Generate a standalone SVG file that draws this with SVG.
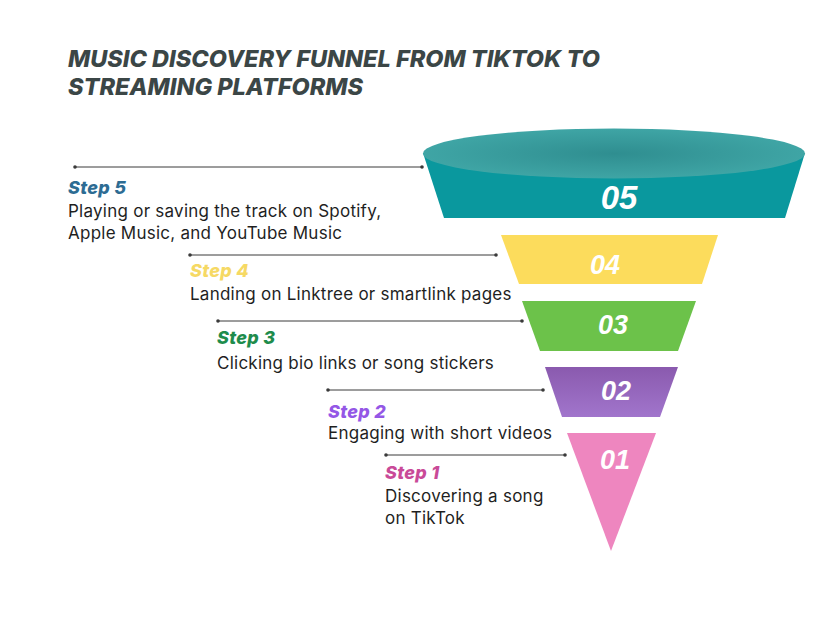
<svg xmlns="http://www.w3.org/2000/svg" width="828" height="621" viewBox="0 0 828 621">
<defs>
<style>
.title{font-family:Inter,"Liberation Sans",sans-serif;font-weight:800;font-style:italic;font-size:23.5px;fill:#3b4646}
.step{font-family:Inter,"Liberation Sans",sans-serif;font-weight:800;font-style:italic;font-size:18px;letter-spacing:0.3px}
.body{font-family:Inter,"Liberation Sans",sans-serif;font-size:17px;fill:#1f1f1f;letter-spacing:0.25px}
.num{font-family:"Liberation Sans",Arial,sans-serif;font-weight:700;font-style:italic;fill:#ffffff;text-anchor:middle}
.conn line{stroke:#3a3a3a;stroke-width:1}
.conn circle{fill:#3a3a3a}
</style>
<radialGradient id="topG" cx="0.5" cy="0.5" r="0.5">
<stop offset="0" stop-color="#2f8e90"/>
<stop offset="1" stop-color="#3fa5a5"/>
</radialGradient>
<linearGradient id="purG" x1="0" y1="0" x2="0" y2="1">
<stop offset="0" stop-color="#8a5aae"/>
<stop offset="1" stop-color="#a175cc"/>
</linearGradient>
</defs>
<rect width="828" height="621" fill="#ffffff"/>
<g id="title">
<text class="title" x="68" y="67">MUSIC DISCOVERY FUNNEL FROM TIKTOK TO</text>
<text class="title" x="68" y="95">STREAMING PLATFORMS</text>
</g>
<g class="conn" id="connectors">
<line x1="75" y1="167" x2="423" y2="167"/><circle cx="75" cy="167" r="1.8"/><circle cx="422" cy="167" r="1.8"/>
<line x1="190" y1="255" x2="496" y2="255"/><circle cx="190" cy="255" r="1.8"/><circle cx="496" cy="255" r="1.8"/>
<line x1="218" y1="321" x2="522" y2="321"/><circle cx="218" cy="321" r="1.8"/><circle cx="522" cy="321" r="1.8"/>
<line x1="328" y1="390" x2="543" y2="390"/><circle cx="328" cy="390" r="1.8"/><circle cx="543" cy="390" r="1.8"/>
<line x1="386" y1="455" x2="565" y2="455"/><circle cx="386" cy="455" r="1.8"/><circle cx="565" cy="455" r="1.8"/>
</g>
<g id="stage5">
<path d="M423,153 L444,218 L785,218 L805,153 Z" fill="#0a989e"/>
<ellipse cx="614" cy="153.5" rx="191" ry="25" fill="url(#topG)"/>
<text class="num" x="619" y="209" font-size="33">05</text>
</g>
<g id="stage4">
<path d="M501,235 L718,235 L702,284 L519,284 Z" fill="#fcdc5c"/>
<text class="num" x="605" y="274" font-size="27">04</text>
</g>
<g id="stage3">
<path d="M522,301 L696,301 L678,351 L540,351 Z" fill="#6cc24a"/>
<text class="num" x="613" y="334" font-size="27">03</text>
</g>
<g id="stage2">
<path d="M545,367 L678,367 L660,417 L562,417 Z" fill="url(#purG)"/>
<text class="num" x="616" y="400" font-size="27">02</text>
</g>
<g id="stage1">
<path d="M567,433 L656,433 L611,551 Z" fill="#ee86bf"/>
<text class="num" x="615" y="469" font-size="27">01</text>
</g>
<g id="label5">
<text class="step" x="68" y="194" fill="#2d6c93">Step 5</text>
<text class="body" x="68" y="217">Playing or saving the track on Spotify,</text>
<text class="body" x="68" y="239">Apple Music, and YouTube Music</text>
</g>
<g id="label4">
<text class="step" x="190" y="277" fill="#f6d964">Step 4</text>
<text class="body" x="190" y="300">Landing on Linktree or smartlink pages</text>
</g>
<g id="label3">
<text class="step" x="217" y="344" fill="#1e8c4c">Step 3</text>
<text class="body" x="217" y="369">Clicking bio links or song stickers</text>
</g>
<g id="label2">
<text class="step" x="328" y="418" fill="#9457e6">Step 2</text>
<text class="body" x="328" y="439">Engaging with short videos</text>
</g>
<g id="label1">
<text class="step" x="385" y="479" fill="#c94a98">Step 1</text>
<text class="body" x="385" y="502">Discovering a song</text>
<text class="body" x="385" y="524">on TikTok</text>
</g>
</svg>
